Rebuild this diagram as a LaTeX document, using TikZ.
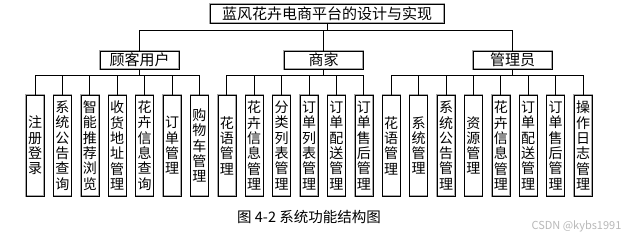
\documentclass[tikz,border=0pt]{standalone}
\usepackage{fontspec}
\setmainfont{Noto Sans CJK SC}
\begin{document}
\begin{tikzpicture}[x=1pt,y=-1pt,
  box/.style={draw=gray!70, double=black, double distance=0.5pt, line width=0.45pt, fill=white, inner sep=0pt},
  conn/.style={draw=black, line width=0.9pt},
  top/.style={box, minimum width=234pt, minimum height=19pt, font=\fontsize{15}{15}\selectfont},
  mid/.style={box, minimum width=79pt, minimum height=18pt, font=\fontsize{15}{15}\selectfont},
  leaf/.style={box, minimum width=18pt, minimum height=101pt, align=center, font=\fontsize{14}{15.3}\selectfont}]
\useasboundingbox (0,0) rectangle (629,238);
\fill[white] (0,0) rectangle (629,238);

\node[top] (root) at (327,13.5) {蓝风花卉电商平台的设计与实现};
\node[mid] (cu) at (139.5,60) {顾客用户};
\node[mid] (me) at (323.5,60) {商家};
\node[mid] (ad) at (512.5,60) {管理员};

\coordinate (bar1) at (0,30);
\coordinate (bar2) at (0,75);

\foreach \i/\t in {
  1/{注\\册\\登\\录},
  2/{系\\统\\公\\告\\查\\询},
  3/{智\\能\\推\\荐\\浏\\览},
  4/{收\\货\\地\\址\\管\\理},
  5/{花\\卉\\信\\息\\查\\询},
  6/{订\\单\\管\\理},
  7/{购\\物\\车\\管\\理},
  8/{花\\语\\管\\理},
  9/{花\\卉\\信\\息\\管\\理},
  10/{分\\类\\列\\表\\管\\理},
  11/{订\\单\\列\\表\\管\\理},
  12/{订\\单\\配\\送\\管\\理},
  13/{订\\单\\售\\后\\管\\理},
  14/{花\\语\\管\\理},
  15/{系\\统\\管\\理},
  16/{系\\统\\公\\告\\管\\理},
  17/{资\\源\\管\\理},
  18/{花\\卉\\信\\息\\管\\理},
  19/{订\\单\\配\\送\\管\\理},
  20/{订\\单\\售\\后\\管\\理},
  21/{操\\作\\日\\志\\管\\理}}{
  \node[leaf] (l\i) at ({35+(\i-1)*27.4},145.5) {\t};
  \draw[conn] (l\i.north) -- (l\i.north |- bar2);
}

% level 1 connectors
\draw[conn] (root.south) -- (root.south |- bar1);
\draw[conn] (cu.north) -- (cu.north |- bar1) -- (ad.north |- bar1) -- (ad.north);
\draw[conn] (me.north) -- (me.north |- bar1);

% level 2 connectors
\draw[conn] (cu.south) -- (cu.south |- bar2);
\draw[conn] (l1.north |- bar2) -- (l7.north |- bar2);
\draw[conn] (me.south) -- (me.south |- bar2);
\draw[conn] (l8.north |- bar2) -- (l13.north |- bar2);
\draw[conn] (ad.south) -- (ad.south |- bar2);
\draw[conn] (l14.north |- bar2) -- (l21.north |- bar2);

\node[font=\fontsize{14.5}{14.5}\selectfont] (cap) at (309,217) {图 4-2 系统功能结构图};
\node[text=gray!55, font=\fontsize{11}{11}\selectfont, anchor=west] (wm) at (528,226) {CSDN @kybs1991};
\end{tikzpicture}
\end{document}
